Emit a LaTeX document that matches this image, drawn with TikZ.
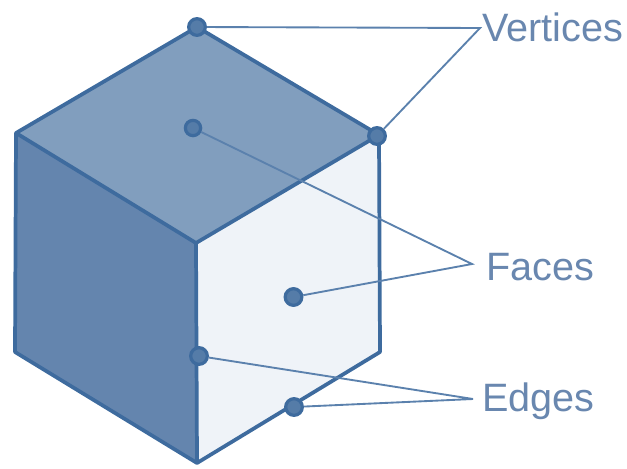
\documentclass[tikz,border=0pt]{standalone}
\usepackage{fontspec}
\setmainfont{Liberation Sans}
\definecolor{edgeblue}{RGB}{62,107,158}
\definecolor{topface}{RGB}{129,158,190}
\definecolor{leftface}{RGB}{100,133,174}
\definecolor{rightface}{RGB}{239,243,248}
\definecolor{labelblue}{RGB}{105,135,175}
\definecolor{dotfill}{RGB}{85,124,168}
\tikzset{
  cubeface/.style={draw=edgeblue,line width=2.8pt,line join=round},
  marker/.style={circle,draw=edgeblue,fill=dotfill,line width=2.4pt,minimum size=12.5pt,inner sep=0pt},
  leader/.style={draw=edgeblue!85!white,line width=1.4pt},
  callout/.style={text=labelblue,font=\fontsize{29.7}{32}\selectfont,anchor=west,inner sep=0pt}
}
\begin{document}
\begin{tikzpicture}[x=0.75pt,y=-0.75pt]
\useasboundingbox (0,0) rectangle (627,468);
\coordinate (T) at (197,27);
\coordinate (R) at (379,135);
\coordinate (C) at (196,243);
\coordinate (L) at (16,133);
\coordinate (BL) at (15,352);
\coordinate (B) at (197,463);
\coordinate (BR) at (380,352);
\fill[rightface] (C) -- (R) -- (BR) -- (B) -- cycle;
\fill[leftface] (L) -- (C) -- (B) -- (BL) -- cycle;
\filldraw[cubeface,fill=topface] (T) -- (R) -- (C) -- (L) -- cycle;
\draw[cubeface] (L) -- (BL) -- (B) -- (BR) -- (R);
\draw[cubeface] (C) -- (B);
\node[callout] (vertices) at (482,27) {Vertices};
\node[callout] (faces) at (486,267) {Faces};
\node[callout] (edges) at (482,401) {Edges};
\coordinate (vj) at (480,28);
\coordinate (fj) at (472,264);
\coordinate (ej) at (473,399);
\node[marker] (v1) at (197,27) {};
\node[marker] (v2) at (377,136) {};
\node[marker,minimum size=11.5pt] (f1) at (193,128) {};
\node[marker] (f2) at (293.5,297) {};
\node[marker] (e1) at (199,356) {};
\node[marker] (e2) at (294,407) {};
\draw[leader] (v1) -- (vj) -- (v2);
\draw[leader] (f1) -- (fj) -- (f2);
\draw[leader] (e1) -- (ej) -- (e2);
\end{tikzpicture}
\end{document}
